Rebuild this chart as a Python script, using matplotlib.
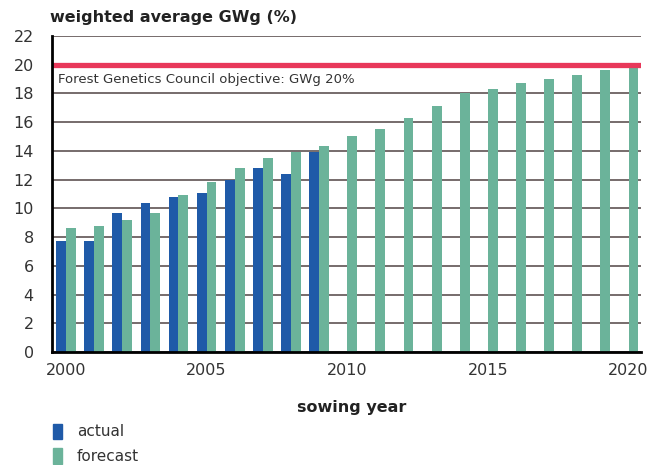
import numpy as np
import matplotlib.pyplot as plt
from matplotlib.patches import Rectangle

# data
actual_years = [2000, 2001, 2002, 2003, 2004, 2005, 2006, 2007, 2008, 2009]
actual = [7.7, 7.7, 9.7, 10.4, 10.8, 11.05, 12.0, 12.8, 12.4, 13.95]
forecast_years = list(range(2000, 2021))
forecast = [8.6, 8.8, 9.2, 9.7, 10.9, 11.8, 12.8, 13.5, 13.95, 14.3,
            15.0, 15.5, 16.3, 17.15, 18.0, 18.3, 18.7, 19.0, 19.3, 19.6, 20.0]
objective = 20
xticks = [2000, 2005, 2010, 2015, 2020]
yticks = list(range(0, 23, 2))

blue = "#1f5aa8"
green = "#6bb39a"
red = "#e8385a"
txt = "#333333"

fig = plt.figure(figsize=(6.57, 4.65), dpi=100)
ax = fig.add_axes([0.079, 0.243, 0.897, 0.68])

w = 0.35
ax.bar(np.array(actual_years) - w / 2, actual, width=w, color=blue, zorder=3)
ax.bar(np.array(forecast_years) + w / 2, forecast, width=w, color=green, zorder=3)

for y in yticks:
    ax.axhline(y, color="#6b6060", lw=1.3, zorder=1)
ax.axhline(objective, color=red, lw=3.8, zorder=4)

ax.text(1999.7, 18.95, "Forest Genetics Council objective: GWg 20%",
        fontsize=9.5, color=txt, va="center", ha="left")

ax.set_xlim(1999.5, 2020.45)
ax.set_ylim(0, 22)
ax.set_xticks(xticks)
ax.set_yticks(yticks)
ax.tick_params(length=0, labelsize=11.5, labelcolor=txt)
ax.tick_params(axis="x", pad=8)
ax.tick_params(axis="y", pad=13)

for s in ["top", "right"]:
    ax.spines[s].set_visible(False)
ax.spines["left"].set_linewidth(2)
ax.spines["bottom"].set_linewidth(2)
ax.spines["left"].set_zorder(5)
ax.spines["bottom"].set_zorder(5)

fig.text(0.076, 0.962, "weighted average GWg (%)", fontsize=11.5,
         fontweight="bold", color="#222222", va="center")
fig.text(0.535, 0.124, "sowing year", fontsize=11.5, fontweight="bold",
         color="#222222", ha="center", va="center")

# legend
for i, (lab, col) in enumerate([("actual", blue), ("forecast", green)]):
    yy = 0.071 - i * 0.052
    fig.patches.append(Rectangle((0.081, yy - 0.016), 0.013, 0.033,
                                 transform=fig.transFigure, color=col))
    fig.text(0.117, yy, lab, fontsize=11, color=txt, va="center")

fig.savefig("out.png", dpi=100)
